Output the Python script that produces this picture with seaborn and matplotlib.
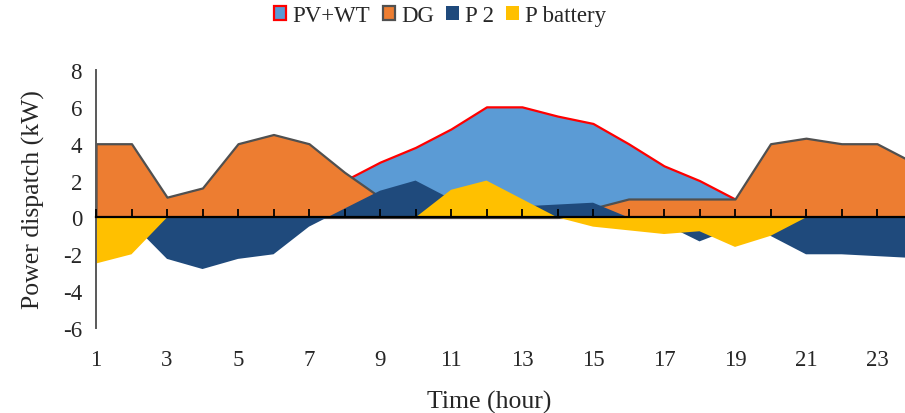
import matplotlib
matplotlib.use("Agg")
import matplotlib.pyplot as plt
import seaborn as sns

# hourly dispatch values (kW)
hours = list(range(1, 25))
pv_wt = [0, 0, 0, 0, 0, 0, 1, 2, 3, 3.8, 4.8, 6, 6, 5.5, 5.1, 4, 2.8, 2, 1, 0, 0, 0, 0, 0]
dg = [4, 4, 1.1, 1.6, 4, 4.5, 4, 2.45, 1.1, 0, 0, 0, 0, 0, 0.5, 1, 1, 1, 1, 4, 4.3, 4, 4, 3]
p2 = [0, -0.3, -2.25, -2.8, -2.25, -2.0, -0.5, 0.48, 1.45, 2.0, 1.0, 0.5, 0.6, 0.7, 0.8, 0,
      -0.35, -1.3, -0.55, -1.0, -2.0, -2.0, -2.1, -2.2]
p_battery = [-2.5, -2.0, 0, 0, 0, 0, 0, 0, 0, 0, 1.5, 2, 1, 0, -0.5, -0.7, -0.9, -0.75, -1.6,
             -1.0, 0, 0, 0, 0]

x_labels = [str(h) for h in range(1, 24, 2)]

sns.set_style("white")
plt.rcParams['font.family'] = ['Liberation Serif', 'DejaVu Serif']
plt.rcParams['axes.unicode_minus'] = False

fig, ax = plt.subplots(figsize=(9.05, 4.14), dpi=100)
fig.subplots_adjust(left=96 / 905, right=912.5 / 905, bottom=1 - 329 / 414, top=1 - 71 / 414)

# overlapping (not stacked) areas, drawn in Excel series order
ax.fill_between(hours, 0, pv_wt, facecolor='#5B9BD5', edgecolor='#FF0000', linewidth=1.6,
                label='PV+WT', zorder=1)
ax.fill_between(hours, 0, dg, facecolor='#ED7D31', edgecolor='#505050', linewidth=1.6,
                label='DG', zorder=1.1)
ax.fill_between(hours, 0, p2, facecolor='#1F4A7C', edgecolor='none', linewidth=0,
                label='P 2', zorder=1.2)
ax.fill_between(hours, 0, p_battery, facecolor='#FFC000', edgecolor='none', linewidth=0,
                label='P battery', zorder=1.3)

ax.set_xlim(1, 24)
ax.set_ylim(-6, 8)
ax.set_yticks(range(-6, 9, 2))
ax.set_xticks(range(1, 24, 2))
ax.set_xticklabels(x_labels)

for side in ['top', 'right', 'bottom']:
    ax.spines[side].set_visible(False)
ax.spines['left'].set_color('#595959')
ax.spines['left'].set_linewidth(1.4)

ax.tick_params(axis='y', direction='in', length=6, width=1.3, color='#595959',
               labelsize=16.5, pad=10)
ax.tick_params(axis='x', length=0, labelsize=16.5, pad=15)

# category axis crossing at zero, ticks every hour pointing up
zero_axis = ax.secondary_xaxis(6 / 14)
zero_axis.set_xticks(range(1, 25))
zero_axis.tick_params(direction='in', length=6, width=1.3, color='black', labelbottom=False)
zero_axis.spines['bottom'].set_linewidth(1.6)
zero_axis.spines['bottom'].set_color('black')
zero_axis.set_zorder(5)

ax.set_xlabel('Time (hour)', fontsize=18.5)
ax.xaxis.set_label_coords(0.481, -0.24)
ax.set_ylabel('Power dispatch (kW)', fontsize=18.5)
ax.yaxis.set_label_coords(-0.063, 0.5)

fig.legend(loc='center', bbox_to_anchor=(0.486, 0.959), ncol=4, frameon=False,
           fontsize=16.5, handlelength=0.55, handleheight=0.55, handletextpad=0.25,
           columnspacing=0.55)

plt.savefig('out.png', dpi=100)
